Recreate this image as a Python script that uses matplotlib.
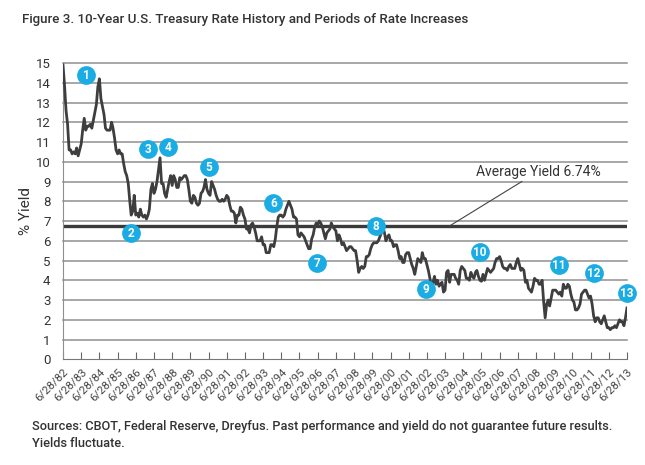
import numpy as np
import pandas as pd
import matplotlib
matplotlib.use('Agg')
import matplotlib.pyplot as plt

# monthly 10-year yield (%), Jun 1982 .. Jun 2013
yld_82_89 = [14.9, 13.9, 12.6, 11.9, 10.6, 10.6, 10.4,
             10.5, 10.4, 10.7, 10.3, 10.6, 10.9, 11.6, 12.2, 11.6, 11.8, 11.8, 11.9,
             11.7, 12.1, 12.5, 12.9, 13.8, 14.2, 13.2, 12.8, 12.4, 11.7, 11.6, 11.6,
             11.6, 12.0, 11.7, 11.2, 10.6, 10.4, 10.6, 10.4, 10.4, 9.9, 9.5, 9.3,
             8.9, 8.0, 7.3, 7.5, 8.3, 7.3, 7.4, 7.2, 7.6, 7.3, 7.2, 7.3,
             7.1, 7.3, 7.6, 8.6, 8.9, 8.4, 8.6, 9.0, 9.6, 10.2, 8.9, 8.9,
             8.4, 8.2, 8.6, 9.0, 9.3, 8.8, 9.3, 9.1, 8.7, 8.7, 9.2, 9.1,
             9.2, 9.3, 9.3, 9.1, 8.6, 8.0, 7.9, 8.3, 8.2, 7.9, 7.8, 7.9]
yld_90_99 = [8.4, 8.5, 8.7, 9.1, 8.6, 8.4, 8.3, 9.0, 8.8, 8.6, 8.3, 8.1,
             8.0, 8.0, 8.1, 8.0, 8.1, 8.3, 8.2, 7.8, 7.5, 7.5, 7.4, 6.9,
             7.3, 7.3, 7.7, 7.6, 7.3, 7.1, 6.6, 6.6, 6.4, 6.8, 6.9, 6.7,
             6.4, 6.0, 6.0, 6.0, 6.2, 5.8, 5.8, 5.4, 5.4, 5.4, 5.8, 5.8,
             5.7, 6.1, 6.7, 7.2, 7.3, 7.3, 7.2, 7.3, 7.6, 7.8, 8.0, 7.8,
             7.6, 7.2, 7.2, 7.1, 6.3, 6.2, 6.4, 6.3, 6.2, 6.0, 5.8, 5.6,
             5.6, 6.1, 6.3, 6.7, 6.9, 6.8, 7.0, 6.9, 6.7, 6.4, 6.1, 6.4,
             6.5, 6.6, 6.9, 6.7, 6.6, 6.5, 6.0, 6.3, 6.1, 5.8, 5.9, 5.7,
             5.5, 5.6, 5.7, 5.7, 5.6, 5.5, 5.5, 5.0, 4.4, 4.6, 4.7, 4.6,
             4.7, 5.2, 5.2, 5.3, 5.6, 5.8, 5.9, 5.9, 5.9, 6.0, 6.2, 6.4]
yld_00_09 = [6.7, 6.4, 6.0, 6.2, 6.3, 6.0, 6.0, 5.7, 5.8, 5.8, 5.5, 5.1,
             5.2, 4.9, 4.9, 5.3, 5.4, 5.4, 5.1, 4.8, 4.6, 4.3, 4.7, 5.1,
             5.0, 4.9, 5.4, 5.1, 5.1, 4.8, 4.5, 4.1, 3.6, 3.9, 4.2, 3.8,
             4.0, 3.7, 3.8, 3.9, 3.4, 3.5, 4.4, 4.5, 3.9, 4.3, 4.3, 4.3,
             4.1, 4.0, 3.8, 4.5, 4.7, 4.6, 4.5, 4.1, 4.1, 4.0, 4.4, 4.2,
             4.1, 4.4, 4.5, 4.2, 4.0, 3.95, 4.3, 4.0, 4.3, 4.6, 4.5, 4.4,
             4.5, 4.6, 4.9, 5.1, 5.1, 5.2, 5.0, 4.7, 4.6, 4.6, 4.5, 4.7,
             4.8, 4.6, 4.6, 4.6, 4.9, 5.1, 4.8, 4.5, 4.6, 4.5, 3.9, 4.0,
             3.6, 3.5, 3.4, 3.7, 4.1, 4.0, 4.0, 3.8, 3.8, 4.0, 2.9, 2.1,
             2.8, 3.0, 2.7, 3.1, 3.5, 3.5, 3.5, 3.4, 3.3, 3.4, 3.2, 3.8]
yld_10_13 = [3.6, 3.6, 3.8, 3.7, 3.3, 3.0, 2.9, 2.5, 2.5, 2.6, 2.8, 3.3,
             3.4, 3.5, 3.5, 3.3, 3.1, 3.2, 2.8, 2.2, 1.9, 2.1, 2.1, 1.9,
             1.8, 2.0, 2.2, 1.9, 1.6, 1.6, 1.5, 1.6, 1.6, 1.7, 1.6, 1.8,
             2.0, 1.9, 1.9, 1.7, 2.1, 2.6]

avg_yield = 6.74

# numbered periods of rate increases: (date, yield level of bubble)
bubble_labels = ['1', '2', '3', '4', '5', '6', '7', '8', '9', '10', '11', '12', '13']
bubble_dates = ['1983-10-10', '1986-03-25', '1987-02-20', '1988-04-15', '1990-07-05',
                '1994-01-20', '1996-06-08', '1999-09-03', '2002-06-02', '2005-05-25',
                '2009-09-25', '2011-09-05', '2013-06-25']
bubble_vals = [14.4, 6.4, 10.64, 10.73, 9.76, 7.93, 4.88, 6.74, 3.56, 5.42, 4.79, 4.37, 3.35]

tick_labels = ['6/28/%02d' % (y % 100) for y in range(1982, 2014)]

yields = yld_82_89 + yld_90_99 + yld_00_09 + yld_10_13
dates = pd.date_range('1982-06-28', periods=len(yields), freq=pd.DateOffset(months=1))

plt.rcParams['font.family'] = ['Roboto', 'DejaVu Sans']

fig = plt.figure(figsize=(6.45, 4.65), dpi=100)
ax = fig.add_axes([63 / 645, 105.7 / 465, 564 / 645, 296.3 / 465])

grid_c = '#8f8f8f'
for v in range(1, 16):
    ax.axhline(v, color=grid_c, lw=1.1, zorder=1, clip_on=False)
ax.axhline(avg_yield, color='#3a3a3a', lw=2.4, zorder=2)

ax.plot(dates, yields, color='#3e3e3e', lw=2.0, zorder=3)

for lab, d, v in zip(bubble_labels, bubble_dates, bubble_vals):
    ax.plot(pd.Timestamp(d), v, 'o', ms=13.5, color='#1aace3', mec='none', zorder=5, clip_on=False)
    ax.text(pd.Timestamp(d), v - 0.03, lab, color='white', fontsize=8.5, fontweight='bold',
            ha='center', va='center', zorder=6)

ax.annotate('Average Yield 6.74%', xy=(pd.Timestamp('2003-09-20'), avg_yield),
            xytext=(pd.Timestamp('2005-03-01'), 9.5), fontsize=10, color='#333333',
            ha='left', va='center',
            arrowprops=dict(arrowstyle='-', color='#444444', lw=0.8, shrinkA=0, shrinkB=0))

ax.set_xlim(pd.Timestamp('1982-06-28'), pd.Timestamp('2013-06-28'))
ax.set_ylim(0, 15)
ax.set_yticks(range(0, 16))
ax.tick_params(axis='y', length=0, pad=9, labelsize=9.5, labelcolor='#333333')
tick_dates = [pd.Timestamp('%d-06-28' % y) for y in range(1982, 2014)]
ax.set_xticks(tick_dates)
ax.set_xticklabels(tick_labels, rotation=45, ha='right', rotation_mode='anchor',
                   fontsize=8.2, color='#444444')
ax.tick_params(axis='x', direction='in', length=5, color='#666666', pad=5)
for s in ['top', 'right']:
    ax.spines[s].set_visible(False)
ax.spines['left'].set_color(grid_c)
ax.spines['bottom'].set_color('#777777')
ax.set_ylabel('% Yield', fontsize=11, color='#333333', labelpad=2)

fig.text(22 / 645, 1 - 20 / 465, 'Figure 3. 10-Year U.S. Treasury Rate History and Periods of Rate Increases',
         fontsize=9.6, fontweight='medium', color='#333333', va='center')
fig.text(32 / 645, 1 - 426 / 465,
         'Sources: CBOT, Federal Reserve, Dreyfus. Past performance and yield do not guarantee future results.',
         fontsize=9.2, fontweight='medium', color='#333333', va='center')
fig.text(32 / 645, 1 - 443 / 465, 'Yields fluctuate.', fontsize=9.2, fontweight='medium',
         color='#333333', va='center')

fig.savefig('out.png', dpi=100)
